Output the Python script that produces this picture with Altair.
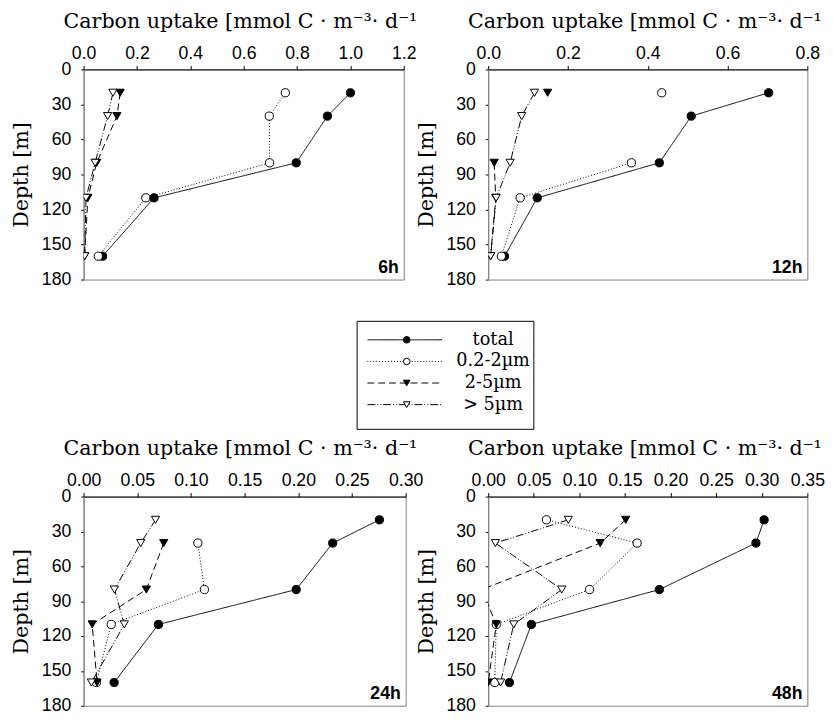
import altair as alt
import pandas as pd

# ---------------- data ----------------
depths = [20, 40, 80, 110, 160]
series_names = ["total", "0.2-2µm", "2-5µm", "> 5µm"]
legend_labels = ["total", "0.2-2µm", "2-5µm", "> 5µm"]
panel_names = ["6h", "12h", "24h", "48h"]

total_6h = [1.000, 0.914, 0.797, 0.264, 0.071]
pico_6h = [0.756, 0.696, 0.697, 0.233, 0.055]
nano_6h = [0.137, 0.125, 0.049, 0.016, 0.004]
micro_6h = [0.110, 0.090, 0.043, 0.009, 0.004]

total_12h = [0.703, 0.509, 0.429, 0.123, 0.041]
pico_12h = [0.435, None, 0.359, 0.080, 0.033]
nano_12h = [0.149, None, 0.015, 0.019, 0.006]
micro_12h = [0.116, 0.084, 0.055, 0.020, 0.006]

total_24h = [0.2755, 0.232, 0.198, 0.0697, 0.0284]
pico_24h = [None, 0.1064, 0.1125, 0.0257, 0.0119]
nano_24h = [None, 0.0746, 0.0584, 0.0080, 0.0125]
micro_24h = [0.0670, 0.0532, 0.0287, 0.0379, 0.0073]

total_48h = [0.3026, 0.2936, 0.1877, 0.0474, 0.0233]
pico_48h = [0.0639, 0.1633, 0.1112, 0.0089, 0.0072]
nano_48h = [0.1508, 0.1228, -0.0070, 0.0089, 0.0000]
micro_48h = [0.0879, 0.0079, 0.0807, 0.0280, 0.0136]

x_ticks_6h = [0.0, 0.2, 0.4, 0.6, 0.8, 1.0, 1.2]
x_ticks_12h = [0.0, 0.2, 0.4, 0.6, 0.8]
x_ticks_24h = [0.0, 0.05, 0.10, 0.15, 0.20, 0.25, 0.30]
x_ticks_48h = [0.0, 0.05, 0.10, 0.15, 0.20, 0.25, 0.30, 0.35]
depth_ticks = [0, 30, 60, 90, 120, 150, 180]

X_TITLE = "Carbon uptake [mmol C · m⁻³· d⁻¹"
Y_TITLE = "Depth [m]"

SERIF = "DejaVu Serif"
SANS = "Liberation Sans"

dash_scale = alt.Scale(domain=series_names,
                       range=[[1, 0], [1, 2], [7, 4], [8, 2, 1, 2, 1, 2]])
shape_scale = alt.Scale(domain=series_names,
                        range=["circle", "circle", "triangle-down", "triangle-down"])
fill_scale = alt.Scale(domain=series_names,
                       range=["black", "white", "black", "white"])


def long_frame(values_by_series):
    rows = []
    for name, vals in zip(series_names, values_by_series):
        for d, v in zip(depths, vals):
            rows.append({"series": name, "depth": d,
                         "uptake": float("nan") if v is None else v})
    return pd.DataFrame(rows)


def panel(label, values, ticks, fmt, w, h):
    df = long_frame(values)
    x = alt.X("uptake:Q",
              scale=alt.Scale(domain=[0, ticks[-1]], nice=False, zero=False),
              axis=alt.Axis(orient="top", values=ticks, format=fmt,
                            title=X_TITLE, titleAlign="left", titleX=-21,
                            titleY=-43, titleBaseline="alphabetic",
                            titleFont=SERIF, titleFontSize=21,
                            tickSize=4, labelPadding=3,
                            domainColor="black", tickColor="black",
                            labelFlush=False, labelOverlap=False))
    y = alt.Y("depth:Q",
              scale=alt.Scale(domain=[0, 180], reverse=True, nice=False, zero=False),
              axis=alt.Axis(values=depth_ticks, format="d", title=Y_TITLE,
                            titleFont=SERIF, titleFontSize=21, titlePadding=10,
                            tickSize=3, labelPadding=10,
                            domainColor="#808080", tickColor="black"))
    base = alt.Chart(df)
    lines = base.mark_line(color="black", strokeWidth=1, clip=True,
                           invalid="break-paths-filter-domains").encode(
        x=x, y=y,
        strokeDash=alt.StrokeDash("series:N", scale=dash_scale, legend=None),
        order=alt.Order("depth:Q"))
    pts = base.mark_point(filled=True, stroke="black", strokeWidth=1,
                          opacity=1, size=70, clip=True).encode(
        x=x, y=y,
        shape=alt.Shape("series:N", scale=shape_scale, legend=None),
        fill=alt.Fill("series:N", scale=fill_scale, legend=None))
    lab = alt.Chart(pd.DataFrame({"label": [label]})).mark_text(
        font=SANS, fontSize=18, fontWeight="bold", align="right",
        baseline="alphabetic", color="black").encode(
        x=alt.value(w - 5), y=alt.value(h - 7), text="label:N")
    return alt.layer(lines, pts, lab).properties(width=w, height=h)


p1 = panel(panel_names[0], [total_6h, pico_6h, nano_6h, micro_6h], x_ticks_6h, ".1f", 326, 214)
p2 = panel(panel_names[1], [total_12h, pico_12h, nano_12h, micro_12h], x_ticks_12h, ".1f", 325, 214)
p3 = panel(panel_names[2], [total_24h, pico_24h, nano_24h, micro_24h], x_ticks_24h, ".2f", 328, 213)
p4 = panel(panel_names[3], [total_48h, pico_48h, nano_48h, micro_48h], x_ticks_48h, ".2f", 325, 213)

# ---------------- legend ----------------
leg_df = pd.DataFrame({"series": series_names, "label": legend_labels})
ly = alt.Y("series:N",
           scale=alt.Scale(domain=series_names, type="point", padding=1.25, align=0.44),
           axis=None)
leg_base = alt.Chart(leg_df)
leg_rule = leg_base.mark_rule(color="black", strokeWidth=1).encode(
    y=ly, x=alt.value(11), x2=alt.value(87),
    strokeDash=alt.StrokeDash("series:N", scale=dash_scale, legend=None))
leg_pts = leg_base.mark_point(filled=True, stroke="black", strokeWidth=1,
                              opacity=1, size=45).encode(
    y=ly, x=alt.value(51),
    shape=alt.Shape("series:N", scale=shape_scale, legend=None),
    fill=alt.Fill("series:N", scale=fill_scale, legend=None))
leg_txt = leg_base.mark_text(font=SERIF, fontSize=18, align="center",
                             baseline="middle", color="black").encode(
    y=ly, x=alt.value(139), text="label:N")
legend = alt.layer(leg_rule, leg_pts, leg_txt).properties(
    width=180, height=110,
    view=alt.ViewBackground(stroke="black", strokeWidth=1))

spacer = alt.Chart(pd.DataFrame({"s": [0]})).mark_point(opacity=0).encode(
    x=alt.value(0), y=alt.value(0)).properties(
    width=278, height=100, view=alt.ViewBackground(stroke="transparent"))

row1 = alt.hconcat(p1, p2, spacing=86, bounds="flush")
legend_row = alt.hconcat(spacer, legend, spacing=0, bounds="flush")
row2 = alt.hconcat(p3, p4, spacing=84, bounds="flush")
inner = alt.vconcat(legend_row, row2, spacing=7)

chart = alt.vconcat(row1, inner, spacing=28).properties(
    padding={"left": 2, "top": -5, "right": 0, "bottom": 0},
    background="white"
).configure_view(
    stroke="#808080", strokeWidth=1
).configure_axis(
    labelFont=SANS, labelFontSize=18, labelColor="black",
    titleColor="black", titleFontWeight="normal", grid=False
)

chart.save("out.html", embed_options={"renderer": "svg", "actions": False})
